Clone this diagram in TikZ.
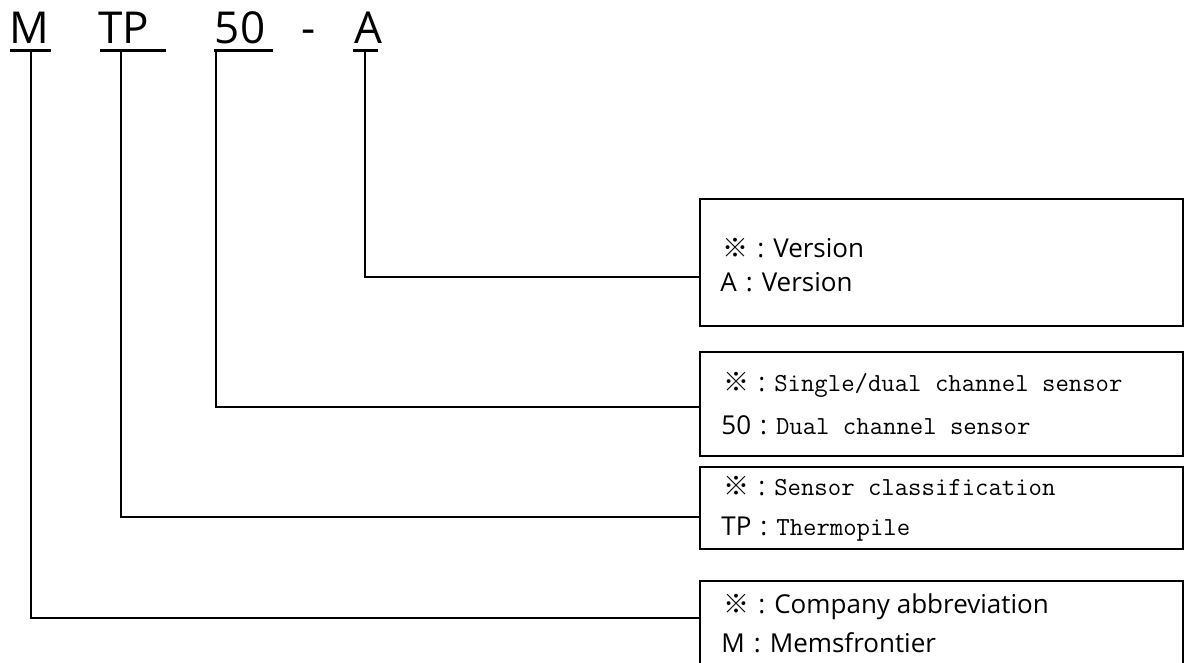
\documentclass[tikz,border=0pt]{standalone}
\usepackage{fontspec}
\setmainfont{Open Sans}
\newfontfamily\cjkfont{Noto Sans CJK SC}
\usetikzlibrary{positioning}

\newcommand{\refmark}{{\cjkfont ※}}
\newcommand{\monotext}[1]{{\ttfamily #1}}
\newcommand{\sep}{\hspace{4.5pt}:\hspace{4.5pt}}

\begin{document}
\begin{tikzpicture}[x=0.5pt,y=0.5pt,
  code/.style={font=\fontsize{22}{26}\selectfont, inner sep=0pt, anchor=base},
  uline/.style={black, line width=1.5pt},
  link/.style={black, line width=1pt},
  infobox/.style={draw, black, line width=1.1pt, minimum width=241.5pt, inner sep=0pt, anchor=north west},
  row/.style={font=\fontsize{13}{15}\selectfont, inner sep=0pt, anchor=base west}]

\clip (0,0) rectangle (1184,-663);

\node[code] (m) at (29,-44) {M};
\node[code] (tp) at (124,-44) {TP};
\node[code] (fifty) at (240,-44) {50};
\node[code] (dash) at (309,-44) {-};
\node[code] (a) at (368,-44) {A};

\draw[uline] (10,-51) -- (51,-51);
\draw[uline] (100,-51) -- (166,-51);
\draw[uline] (214,-51) -- (273,-51);
\draw[uline] (353,-51) -- (378,-51);

\node[infobox, minimum height=63.5pt] (boxA) at (699,-198) {};
\node[row] (boxA1) at (722,-258) {\refmark\sep Version};
\node[row] (boxA2) at (720,-292) {A\sep Version};

\node[infobox, minimum height=52pt] (boxfifty) at (699,-351) {};
\node[row] (boxfifty1) at (723,-392) {\refmark\sep\monotext{Single/dual channel sensor}};
\node[row] (boxfifty2) at (721,-434) {50\sep\monotext{Dual channel sensor}};

\node[infobox, minimum height=41pt] (boxtp) at (699,-466) {};
\node[row] (boxtp1) at (723,-495) {\refmark\sep\monotext{Sensor classification}};
\node[row] (boxtp2) at (721,-535) {TP\sep\monotext{Thermopile}};

\node[infobox, minimum height=50pt] (boxm) at (699,-580) {};
\node[row] (boxm1) at (723,-613) {\refmark\sep Company abbreviation};
\node[row] (boxm2) at (721,-652) {M\sep Memsfrontier};

\coordinate (am) at (365,-51);
\coordinate (fm) at (216,-51);
\coordinate (tm) at (121,-51);
\coordinate (mm) at (31,-51);
\coordinate (aend) at (699,-277);
\coordinate (fend) at (699,-407);
\coordinate (tend) at (699,-517);
\coordinate (mend) at (699,-618);

\draw[link] (am) |- (aend);
\draw[link] (fm) |- (fend);
\draw[link] (tm) |- (tend);
\draw[link] (mm) |- (mend);
\end{tikzpicture}
\end{document}
